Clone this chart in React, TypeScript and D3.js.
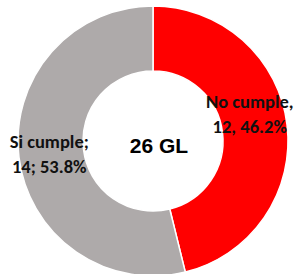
import React from "react";
import * as d3 from "d3";

const categories = ["No cumple", "Si cumple"];
const values = [12, 14];
const percents = ["46.2%", "53.8%"];
const separators = [",", ";"];
const colors = ["#FF0000", "#AEAAAA"];
const centerLabel = "26 GL";

const W = 297;
const H = 274;
const cx = 153;
const cy = 141;
const outerR = 135;
const innerR = 70;
// label offsets relative to arc centroid (layout)
const labelOffsets = [
  { dx: -5, dy: -15 },
  { dx: -2, dy: 0 },
];

export default function App() {
  const pie = d3
    .pie<number>()
    .sort(null)
    .value((d) => d)
    .startAngle(0)
    .endAngle(2 * Math.PI);
  const arcs = pie(values);
  const arc = d3.arc<d3.PieArcDatum<number>>().innerRadius(innerR).outerRadius(outerR);
  const lineH = 25;
  return (
    <svg
      width={W}
      height={H}
      style={{ position: "absolute", left: 0, top: 0, background: "#fff" }}
    >
      <g transform={`translate(${cx},${cy})`}>
        {arcs.map((a, i) => (
          <path key={i} d={arc(a) || ""} fill={colors[i]} stroke="#fff" strokeWidth={1.5} />
        ))}
        {arcs.map((a, i) => {
          const [x, y] = arc.centroid(a);
          const lx = x + labelOffsets[i].dx;
          const ly = y + labelOffsets[i].dy;
          const sep = separators[i];
          return (
            <text
              key={"l" + i}
              x={lx}
              y={ly}
              textAnchor="middle"
              fontFamily="Carlito, Lato, sans-serif"
              fontWeight="bold"
              fontSize={18.5}
              fill="#111"
            >
              <tspan x={lx} dy={-5.5}>{`${categories[i]}${sep}`}</tspan>
              <tspan x={lx} dy={lineH}>{`${values[i]}${sep} ${percents[i]}`}</tspan>
            </text>
          );
        })}
        <text
          x={6}
          y={12}
          textAnchor="middle"
          fontFamily="Arial, 'Liberation Sans', sans-serif"
          fontWeight="bold"
          fontSize={21}
          fill="#000"
        >
          {centerLabel}
        </text>
      </g>
    </svg>
  );
}
